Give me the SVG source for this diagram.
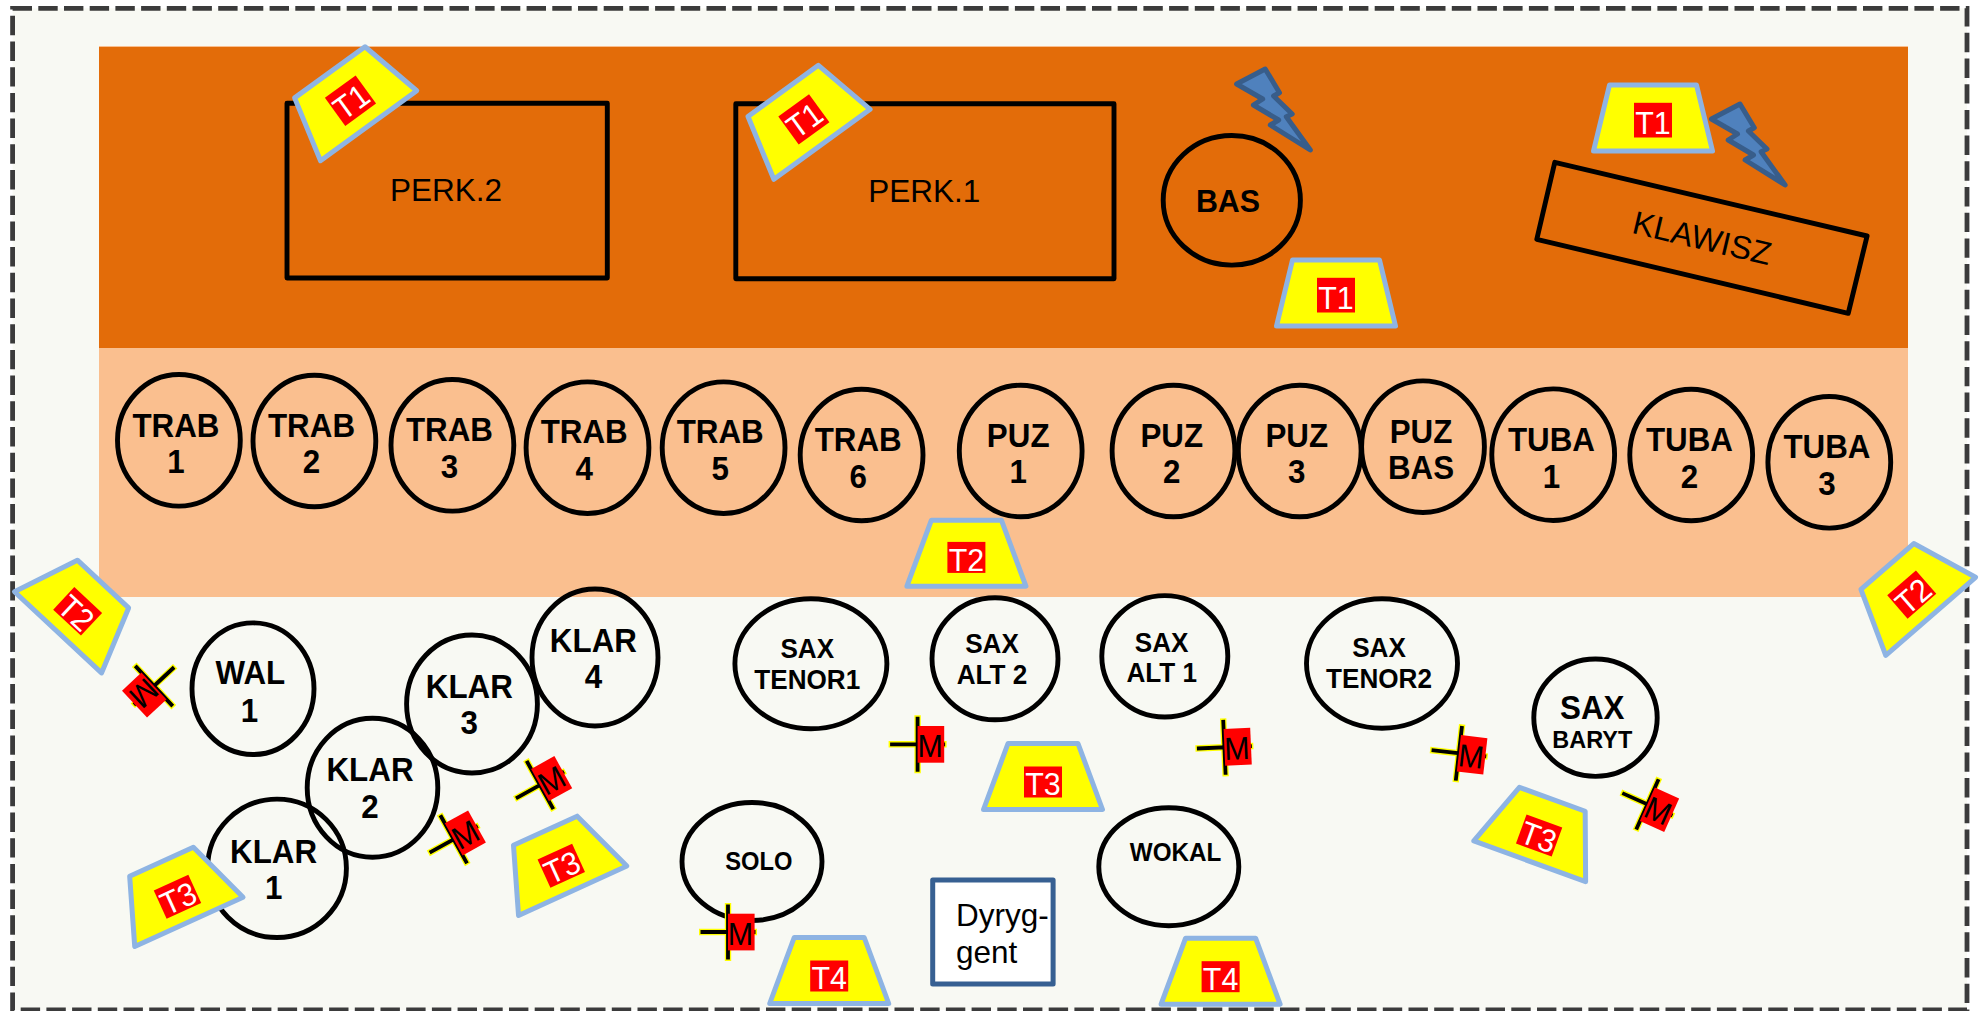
<svg xmlns="http://www.w3.org/2000/svg" width="1980" height="1011" viewBox="0 0 1980 1011">
<style>
text{font-family:"Liberation Sans",Arial,sans-serif;text-anchor:middle;fill:#000;transform-box:fill-box;transform-origin:center;transform:scaleX(.95)}
.r{fill:none;stroke:#000;stroke-width:4.9;stroke-linejoin:round}
.b{font-weight:bold;font-size:33px}
.s{font-weight:bold;font-size:27.5px}
.n{font-size:31.5px;transform:none}
.trap{fill:#ff0;stroke:#8EB4E3;stroke-width:5;stroke-linejoin:round}
.lab{fill:#f00}
.tl{font-size:32px;fill:#fff}
.bolt{fill:#4F81BD;stroke:#385D8A;stroke-width:5;stroke-linejoin:round}
.my{stroke:#ff0;stroke-width:6.4;fill:none}
.mk{stroke:#000;stroke-width:3.8;fill:none}
.mt{font-size:32px}
</style>
<defs>
<polygon id="trapA" class="trap" points="-43.5,-33 43.5,-33 59.5,33 -59.5,33"/>
<polygon id="trapB" class="trap" points="-35,-33 35,-33 59.5,33 -59.5,33"/>
<polygon id="boltShape" class="bolt" points="1265.2,69 1279.5,92.7 1273.6,96 1292.2,114 1286.3,116.7 1310.3,150 1270.3,125 1278.7,120 1253.4,105 1262.7,99 1236.6,84"/>
<g id="cross">
<path class="my" d="M0-29V29M-29 0H29"/>
<path class="mk" d="M0-27.5V27.5M-27.5 0H27.5"/>
<rect class="lab" x="0" y="-18.3" width="26.6" height="36.7"/>
</g>
</defs>

<g id="stage">
<rect x="12.6" y="8.3" width="1954.4" height="1001.7" fill="#F8F9F3" stroke="#3B3B3B" stroke-width="4.8" stroke-dasharray="19.4 6.3"/>
<rect x="99" y="46" width="1809" height="551" fill="#FABF8F"/>
<rect x="99" y="47" width="1809" height="301" fill="#E36C09"/>
</g>

<g id="connectors"></g>

<g id="perk2"><rect class="r" x="287" y="103.3" width="320.3" height="174.7"/><text class="n" x="446" y="201">PERK.2</text></g>
<g id="perk1"><rect class="r" x="735.8" y="103.7" width="378.2" height="175"/><text class="n" x="924.3" y="202">PERK.1</text></g>
<g id="bas"><ellipse class="r" cx="1231.8" cy="200.3" rx="68.6" ry="64.8"/><text x="1228" y="212.3" style="font-weight:bold;font-size:32px">BAS</text></g>
<g id="klawisz"><polygon class="r" points="1554.8,162.3 1867.1,236 1848.2,313.3 1536.8,239.3"/><g transform="translate(1702 238.3) rotate(13.3)"><text class="n" style="font-size:32.5px" y="11">KLAWISZ</text></g></g>

<g id="bolt1"><use href="#boltShape"/></g>
<g id="bolt2"><use href="#boltShape" transform="translate(474.8 35)"/></g>

<g id="trab1"><ellipse class="r" cx="178.9" cy="440.3" rx="61.4" ry="65.8"/><text class="b" x="175.9" y="436.7">TRAB</text><text class="b" x="175.9" y="473.3">1</text></g>
<g id="trab2"><ellipse class="r" cx="314.4" cy="441" rx="61.4" ry="65.8"/><text class="b" x="311.5" y="436.7">TRAB</text><text class="b" x="311.5" y="473.3">2</text></g>
<g id="trab3"><ellipse class="r" cx="452.4" cy="445.3" rx="61.4" ry="65.8"/><text class="b" x="449.5" y="441">TRAB</text><text class="b" x="449.5" y="477.7">3</text></g>
<g id="trab4"><ellipse class="r" cx="587.5" cy="447.7" rx="61.4" ry="65.8"/><text class="b" x="584.2" y="443.3">TRAB</text><text class="b" x="584.2" y="480.3">4</text></g>
<g id="trab5"><ellipse class="r" cx="723.6" cy="447.7" rx="61.4" ry="65.8"/><text class="b" x="720.2" y="443.3">TRAB</text><text class="b" x="720.2" y="480">5</text></g>
<g id="trab6"><ellipse class="r" cx="861.6" cy="455" rx="61.4" ry="65.8"/><text class="b" x="858.2" y="451">TRAB</text><text class="b" x="858.2" y="487.7">6</text></g>
<g id="puz1"><ellipse class="r" cx="1020.7" cy="451" rx="61.4" ry="65.8"/><text class="b" x="1018.2" y="447">PUZ</text><text class="b" x="1018.2" y="483.3">1</text></g>
<g id="puz2"><ellipse class="r" cx="1173.5" cy="451" rx="61.4" ry="65.8"/><text class="b" x="1171.8" y="447">PUZ</text><text class="b" x="1171.8" y="483.3">2</text></g>
<g id="puz3"><ellipse class="r" cx="1299.7" cy="451" rx="61.4" ry="65.8"/><text class="b" x="1296.8" y="447">PUZ</text><text class="b" x="1296.8" y="483.3">3</text></g>
<g id="puzbas"><ellipse class="r" cx="1423" cy="446.7" rx="61.4" ry="65.8"/><text class="b" x="1421" y="443.3">PUZ</text><text class="b" x="1421" y="478.7">BAS</text></g>
<g id="tuba1"><ellipse class="r" cx="1553.2" cy="454.7" rx="61.4" ry="65.8"/><text class="b" x="1551.5" y="451">TUBA</text><text class="b" x="1551.5" y="487.7">1</text></g>
<g id="tuba2"><ellipse class="r" cx="1691.2" cy="455" rx="61.4" ry="65.8"/><text class="b" x="1689.5" y="451">TUBA</text><text class="b" x="1689.5" y="487.7">2</text></g>
<g id="tuba3"><ellipse class="r" cx="1829.3" cy="462.3" rx="61.4" ry="65.8"/><text class="b" x="1827" y="458.3">TUBA</text><text class="b" x="1827" y="495">3</text></g>

<g id="wal1"><ellipse class="r" cx="253" cy="688.7" rx="61" ry="65.8"/><text class="b" x="250.4" y="684.3">WAL</text><text class="b" x="249.5" y="721.7">1</text></g>
<g id="klar4"><ellipse class="r" cx="595" cy="657.5" rx="63" ry="68.5"/><text class="b" x="593.4" y="651.7">KLAR</text><text class="b" x="593.4" y="687.7">4</text></g>
<g id="klar3"><ellipse class="r" cx="472" cy="704" rx="65.4" ry="69"/><text class="b" x="469.3" y="697.7">KLAR</text><text class="b" x="469.3" y="734.3">3</text></g>
<g id="klar2"><ellipse class="r" cx="372.5" cy="787.7" rx="65.3" ry="69.5"/><text class="b" x="370" y="781">KLAR</text><text class="b" x="370" y="817.7">2</text></g>
<g id="klar1"><ellipse class="r" cx="277" cy="868.3" rx="69.4" ry="69.2"/><text class="b" x="273.6" y="862.7">KLAR</text><text class="b" x="273.6" y="898.7">1</text></g>

<g id="saxtenor1"><ellipse class="r" cx="810.9" cy="663.8" rx="76" ry="65"/><text class="s" x="807.3" y="658.3">SAX</text><text class="s" x="807.3" y="689.3">TENOR1</text></g>
<g id="saxalt2"><ellipse class="r" cx="995" cy="658.8" rx="63" ry="61"/><text class="s" x="992" y="653.3">SAX</text><text class="s" x="992" y="684.3">ALT 2</text></g>
<g id="saxalt1"><ellipse class="r" cx="1164.8" cy="656.3" rx="63" ry="60.7"/><text class="s" x="1161.7" y="651.7">SAX</text><text class="s" x="1161.7" y="682">ALT 1</text></g>
<g id="saxtenor2"><ellipse class="r" cx="1382" cy="663.5" rx="75.5" ry="64.7"/><text class="s" x="1379" y="657.3">SAX</text><text class="s" x="1379" y="688.3">TENOR2</text></g>
<g id="saxbaryt"><ellipse class="r" cx="1595.5" cy="717.7" rx="61.7" ry="58.7"/><text class="b" x="1592.3" y="718.7">SAX</text><text x="1592.3" y="747.7" style="font-weight:bold;font-size:24.7px">BARYT</text></g>
<g id="solo"><ellipse class="r" cx="752" cy="861.5" rx="70" ry="59"/><text x="758.9" y="870.3" style="font-weight:bold;font-size:25px">SOLO</text></g>
<g id="wokal"><ellipse class="r" cx="1168.8" cy="866.7" rx="70" ry="59"/><text x="1175.6" y="861.3" style="font-weight:bold;font-size:25.5px">WOKAL</text></g>
<g id="dyrygent"><rect x="932.7" y="880" width="120.4" height="104" fill="#fff" stroke="#376092" stroke-width="5" stroke-linejoin="round"/><text class="n" x="955.9" y="925.7" style="text-anchor:start">Dyryg-</text><text class="n" x="955.9" y="962.7" style="text-anchor:start">gent</text></g>

<g id="t1a" transform="translate(349.2 99) rotate(-36)"><use href="#trapA"/><rect class="lab" x="-19" y="-15.2" width="38" height="34.7"/><text class="tl" y="14.5">T1</text></g>
<g id="t1b" transform="translate(802.6 117.6) rotate(-36)"><use href="#trapA"/><rect class="lab" x="-19" y="-15.2" width="38" height="34.7"/><text class="tl" y="14.5">T1</text></g>
<g id="t1c" transform="translate(1653 118)"><use href="#trapA"/><rect class="lab" x="-19" y="-15.2" width="38" height="34.7"/><text class="tl" y="15.5">T1</text></g>
<g id="t1d" transform="translate(1336 293)"><use href="#trapA"/><rect class="lab" x="-19" y="-15.2" width="38" height="34.7"/><text class="tl" y="15.5">T1</text></g>

<g id="t2a" transform="translate(966.4 553.2)"><use href="#trapB"/><rect class="lab" x="-19" y="-11.3" width="38" height="31"/><text class="tl" y="17.8">T2</text></g>
<g id="t2b" transform="translate(80.5 608.2) rotate(43)"><use href="#trapB"/><rect class="lab" x="-19" y="-11.3" width="38" height="31"/><text class="tl" y="17.8">T2</text></g>
<g id="t2c" transform="translate(1909 591.4) rotate(-41)"><use href="#trapB"/><rect class="lab" x="-19" y="-11.3" width="38" height="31"/><text class="tl" y="17.8">T2</text></g>

<g id="t3a" transform="translate(1043 776.5)"><use href="#trapB"/><rect class="lab" x="-19" y="-10" width="38" height="31"/><text class="tl" y="18.5">T3</text></g>
<g id="t3b" transform="translate(175.2 891.8) rotate(-24.5)"><use href="#trapB"/><rect class="lab" x="-19" y="-10" width="38" height="31"/><text class="tl" y="18.5">T3</text></g>
<g id="t3c" transform="translate(559 860.7) rotate(-24.5)"><use href="#trapB"/><rect class="lab" x="-19" y="-10" width="38" height="31"/><text class="tl" y="18.5">T3</text></g>
<g id="t3d" transform="translate(1541 830.3) rotate(20)"><use href="#trapB"/><rect class="lab" x="-19" y="-10" width="38" height="31"/><text class="tl" y="18.5">T3</text></g>

<g id="t4a" transform="translate(829.2 970.5)"><use href="#trapB"/><rect class="lab" x="-19" y="-10" width="38" height="31"/><text class="tl" y="18.5">T4</text></g>
<g id="t4b" transform="translate(1220.6 971.2)"><use href="#trapB"/><rect class="lab" x="-19" y="-10" width="38" height="31"/><text class="tl" y="18.5">T4</text></g>

<g id="m1" transform="translate(917.6 744.3)"><use href="#cross"/><text class="mt" x="12.5" y="12.7">M</text></g>
<g id="m2" transform="translate(728 932)"><use href="#cross"/><text class="mt" x="12.5" y="12.7">M</text></g>
<g id="m3" transform="translate(1224.4 747.3) rotate(-2.5)"><use href="#cross"/><text class="mt" x="12.5" y="12.7">M</text></g>
<g id="m4" transform="translate(1458.9 753.3) rotate(6.5)"><use href="#cross"/><text class="mt" x="12.5" y="12.7">M</text></g>
<g id="m5" transform="translate(1647.4 804.3) rotate(24)"><use href="#cross"/><text class="mt" x="12.5" y="12.7">M</text></g>
<g id="m6" transform="translate(154 686) rotate(137)"><use href="#cross"/><text class="mt" x="12.5" y="12.7">M</text></g>
<g id="m7" transform="translate(540 785) rotate(-29)"><use href="#cross"/><text class="mt" x="12.5" y="12.7">M</text></g>
<g id="m8" transform="translate(453.7 839.3) rotate(-29)"><use href="#cross"/><text class="mt" x="12.5" y="12.7">M</text></g>
</svg>
